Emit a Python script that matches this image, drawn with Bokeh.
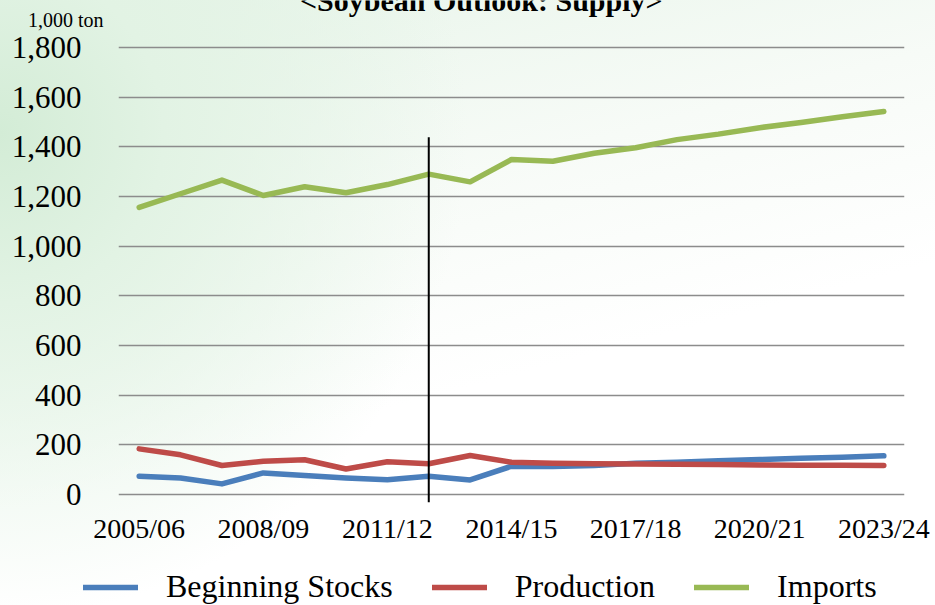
from bokeh.plotting import figure
from bokeh.layouts import column
from bokeh.models import (Range1d, FixedTicker, NumeralTickFormatter, Legend, LegendItem,
                          Label, ColumnDataSource, LinearAxis, Grid)
from bokeh.embed import file_html
from bokeh.resources import INLINE

# ---------------- data ----------------
seasons = ["2005/06", "2006/07", "2007/08", "2008/09", "2009/10", "2010/11", "2011/12",
           "2012/13", "2013/14", "2014/15", "2015/16", "2016/17", "2017/18", "2018/19",
           "2019/20", "2020/21", "2021/22", "2022/23", "2023/24"]
beginning_stocks = [74, 67, 43, 87, 77, 67, 60, 74, 59, 114, 113, 117, 126, 130, 136, 141, 146, 150, 156]
production = [184, 160, 117, 134, 140, 103, 132, 124, 157, 130, 126, 124, 123, 122, 121, 119, 118, 118, 117]
imports = [1156, 1211, 1266, 1204, 1239, 1215, 1248, 1290, 1259, 1349, 1342, 1374, 1396, 1429,
           1451, 1477, 1498, 1521, 1542]
tick_seasons = ["2005/06", "2008/09", "2011/12", "2014/15", "2017/18", "2020/21", "2023/24"]
y_ticks = [0, 200, 400, 600, 800, 1000, 1200, 1400, 1600, 1800]
divider_season = "2012/13"
divider_low, divider_high = -31, 1438

title_text = "<Soybean Outlook: Supply>"
unit_text = "1,000 ton"
series_names = ["Beginning Stocks", "Production", "Imports"]
series_colors = ["#4a7ebb", "#be4b48", "#98b954"]

FONT = "Liberation Serif"

# layout values (positions, not data)
unit_y = 1910      # vertical place of the unit caption, in axis units
title_pos = (8.27, 1991)

idx = list(range(len(seasons)))
src = ColumnDataSource(dict(x=idx, stocks=beginning_stocks, prod=production, imp=imports))

p = figure(width=935, height=562, frame_width=786, frame_height=504,
           min_border_left=118, min_border_right=31, min_border_top=0, min_border_bottom=58,
           x_range=Range1d(-0.5, len(seasons) - 0.5), y_range=Range1d(-40, 1989),
           y_axis_location=None,
           output_backend="svg", toolbar_location=None)

p.background_fill_color = None
p.border_fill_color = None
p.outline_line_color = None

def style_axis(ax, size):
    ax.axis_line_color = None
    ax.major_tick_line_color = None
    ax.minor_tick_line_color = None
    ax.major_tick_out = 0
    ax.major_tick_in = 0
    ax.minor_tick_out = 0
    ax.minor_tick_in = 0
    ax.major_label_text_font = FONT
    ax.major_label_text_color = "#000000"
    ax.major_label_text_font_size = size

# x axis
p.xaxis.ticker = FixedTicker(ticks=[seasons.index(s) for s in tick_seasons])
p.xaxis.major_label_overrides = {seasons.index(s): s for s in tick_seasons}
style_axis(p.xaxis[0], "28px")
p.xaxis.major_label_standoff = 8
p.xgrid.grid_line_color = None

# y axes: inner one carries the unit caption, outer one the value ticks
unit_axis = LinearAxis(ticker=FixedTicker(ticks=[unit_y]), major_label_overrides={unit_y: unit_text},
                       major_label_standoff=15)
style_axis(unit_axis, "20px")
p.add_layout(unit_axis, "left")

y_axis = LinearAxis(ticker=FixedTicker(ticks=y_ticks), formatter=NumeralTickFormatter(format="0,0"),
                    major_label_standoff=-57)
style_axis(y_axis, "31px")
p.add_layout(y_axis, "left")

for g in p.ygrid:
    g.visible = False
p.add_layout(Grid(dimension=1, ticker=FixedTicker(ticks=y_ticks), grid_line_color="#8c8c8c",
                  grid_line_width=1.6))

# series
for col, color in zip(["stocks", "prod", "imp"], series_colors):
    p.line("x", col, source=src, line_color=color, line_width=5.5,
           line_cap="round", line_join="round")

# divider
dx = seasons.index(divider_season)
p.segment(x0=[dx], y0=[divider_low], x1=[dx], y1=[divider_high], line_color="#000000", line_width=2)

# title, cut by the top edge as in the original
p.add_layout(Label(x=title_pos[0], y=title_pos[1], text=title_text, text_font=FONT,
                   text_font_size="30px", text_font_style="bold", text_align="center",
                   text_baseline="alphabetic", text_color="#000000"))

# ---------------- legend strip under the chart ----------------
lg = figure(width=935, height=43, min_border_left=0, min_border_right=0,
            min_border_top=0, min_border_bottom=0,
            x_range=Range1d(0, 1), y_range=Range1d(0, 1),
            x_axis_location=None, y_axis_location=None,
            output_backend="svg", toolbar_location=None)
lg.background_fill_color = None
lg.border_fill_color = None
lg.outline_line_color = None
for g in lg.grid:
    g.visible = False

can_unalign = "frame_align" in lg.properties()
if can_unalign:
    p.frame_align = False
    lg.frame_align = False
    legend_loc, legend_spacing = (83, 0), 39
else:
    legend_loc, legend_spacing = (0, 0), 32

# swatch renderers: their points lie outside the strip's ranges, only the legend shows them
swatches = [lg.line(x=[5, 6], y=[5, 5], line_color=c, line_width=5.5, line_cap="round")
            for c in series_colors]
legend = Legend(items=[LegendItem(label=n, renderers=[r]) for n, r in zip(series_names, swatches)],
                orientation="horizontal", location=legend_loc,
                padding=0, margin=0, spacing=legend_spacing, glyph_width=55, glyph_height=20,
                label_standoff=28, label_text_font=FONT, label_text_font_size="32px",
                label_text_color="#000000", label_text_baseline="middle",
                border_line_color=None, background_fill_alpha=0)
lg.add_layout(legend, "center")

page = column(p, lg, spacing=0,
              styles={"background": "radial-gradient(ellipse 50% 80% at 0% 22%, #d3ecd6 0%, #e2f3e4 35%, "
                                    "rgba(255,255,255,0) 100%), linear-gradient(165deg, #e6f4e8 0%, "
                                    "#f7fbf7 35%, #ffffff 60%)"})

open("out.html", "w").write(file_html(page, INLINE))
